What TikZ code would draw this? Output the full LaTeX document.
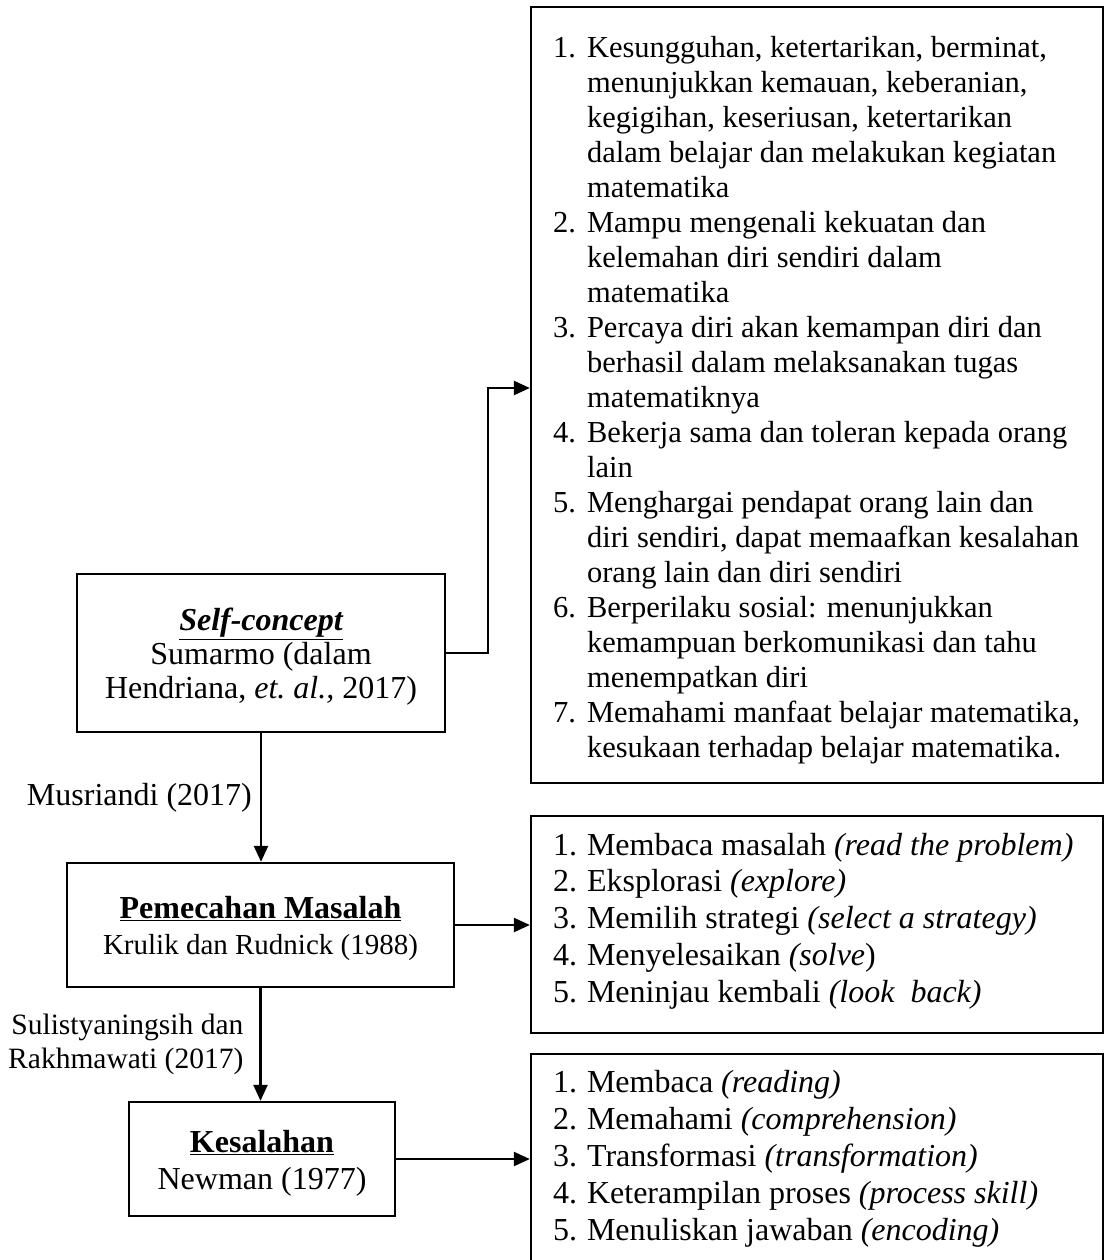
\documentclass[tikz,border=0pt]{standalone}
\usepackage{fontspec}
\setmainfont{Liberation Serif}
\usetikzlibrary{arrows.meta,positioning}
\tikzset{
  % framed topic boxes on the left
  topicbox/.style={draw, line width=2.3pt, align=center, inner sep=0pt},
  % empty frames that hold the indicator lists
  listframe/.style={draw, line width=2.3pt, minimum width=572pt, inner sep=0pt},
  % the list text itself
  listtxt/.style={anchor=north west, align=left, inner sep=0pt},
  % connectors between the boxes
  flowln/.style={-{Triangle[length=16pt,width=14pt]}, line width=2.3pt},
  % source labels beside the vertical connectors
  srclbl/.style={inner sep=0pt, align=right},
}
\newcommand{\lnum}[1]{\strut\makebox[34pt][l]{#1}}
\newcommand{\lind}{\strut\hspace*{34pt}}

\begin{document}
\begin{tikzpicture}[x=1pt, y=-1pt]
  \useasboundingbox (0,0) rectangle (1105,1260);
  % topic boxes
  \node[topicbox, minimum width=368pt, minimum height=158pt,
        font={\fontsize{32}{34}\selectfont}] (self) at (261,653)
    {\rule{0pt}{30pt}\textbf{\textit{\underline{Self-concept}}}\\Sumarmo (dalam\\Hendriana, \textit{et.\ al.,} 2017)};
  \node[topicbox, minimum width=387pt, minimum height=124pt,
        font={\fontsize{32}{36}\selectfont}] (pm) at (260.5,925)
    {\rule{0pt}{30pt}\textbf{\underline{Pemecahan Masalah}}\\{\fontsize{29}{36}\selectfont Krulik dan Rudnick (1988)}};
  \node[topicbox, minimum width=266pt, minimum height=114pt,
        font={\fontsize{32}{37}\selectfont}] (ks) at (262,1159)
    {\rule{0pt}{30pt}\textbf{\underline{Kesalahan}}\\Newman (1977)};
  % list frames
  \node[listframe, minimum height=776pt] (skbox) at (817,395) {};
  \node[listframe, minimum height=217pt] (psbox) at (817,924.5) {};
  \node[listframe, minimum height=210pt] (kbox) at (817,1159) {};
  % self-concept indicators
  \node[listtxt, font={\fontsize{30.5}{35}\selectfont}] (sklist)
    at ([xshift=23pt,yshift=-26.5pt]skbox.north west)
    {\lnum{1.}Kesungguhan, ketertarikan, berminat,\\
     \lind menunjukkan kemauan, keberanian,\\
     \lind kegigihan, keseriusan, ketertarikan\\
     \lind dalam belajar dan melakukan kegiatan\\
     \lind matematika\\
     \lnum{2.}Mampu mengenali kekuatan dan\\
     \lind kelemahan diri sendiri dalam\\
     \lind matematika\\
     \lnum{3.}Percaya diri akan kemampan diri dan\\
     \lind berhasil dalam melaksanakan tugas\\
     \lind matematiknya\\
     \lnum{4.}Bekerja sama dan toleran kepada orang\\
     \lind lain\\
     \lnum{5.}Menghargai pendapat orang lain dan\\
     \lind diri sendiri, dapat memaafkan kesalahan\\
     \lind orang lain dan diri sendiri\\
     \lnum{6.}Berperilaku sosial: menunjukkan\\
     \lind kemampuan berkomunikasi dan tahu\\
     \lind menempatkan diri\\
     \lnum{7.}Memahami manfaat belajar matematika,\\
     \lind kesukaan terhadap belajar matematika.};
  % problem solving steps
  \node[listtxt, font={\fontsize{32}{36.8}\selectfont}] (pslist)
    at ([xshift=23pt,yshift=-14.2pt]psbox.north west)
    {\lnum{1.}Membaca masalah \textit{(read the problem)}\\
     \lnum{2.}Eksplorasi \textit{(explore)}\\
     \lnum{3.}Memilih strategi \textit{(select a strategy)}\\
     \lnum{4.}Menyelesaikan \textit{(solve})\\
     \lnum{5.}Meninjau kembali \textit{(look\ \ back)}};
  % Newman error stages
  \node[listtxt, font={\fontsize{32}{36.8}\selectfont}] (klist)
    at ([xshift=23pt,yshift=-14pt]kbox.north west)
    {\lnum{1.}Membaca \textit{(reading)}\\
     \lnum{2.}Memahami \textit{(comprehension)}\\
     \lnum{3.}Transformasi \textit{(transformation)}\\
     \lnum{4.}Keterampilan proses \textit{(process skill)}\\
     \lnum{5.}Menuliskan jawaban \textit{(encoding)}};
  % connectors
  \draw[flowln] (self.east) -- ++(42,0) |- ([yshift=7pt]skbox.west);
  \draw[flowln] (self.south) -- node[srclbl, left=8pt, font={\fontsize{32}{34}\selectfont}]
    {Musriandi (2017)} (self.south |- pm.north);
  \draw[flowln] (pm.south) -- node[srclbl, left=16pt, font={\fontsize{29.5}{34}\selectfont}]
    {Sulistyaningsih dan\\Rakhmawati (2017)} (pm.south |- ks.north);
  \draw[flowln] (pm.east) -- (pm.east -| psbox.west);
  \draw[flowln] (ks.east) -- (ks.east -| kbox.west);
\end{tikzpicture}
\end{document}
